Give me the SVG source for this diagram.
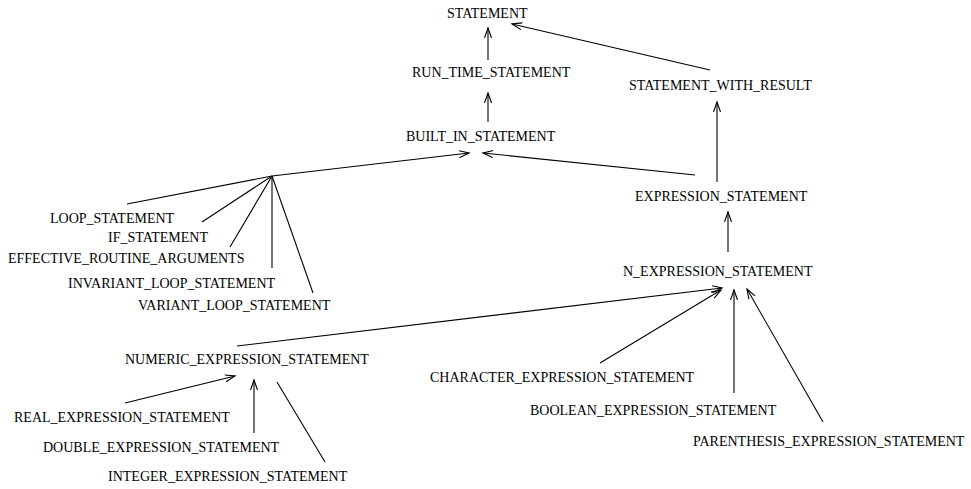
<svg xmlns="http://www.w3.org/2000/svg" width="971" height="489" viewBox="0 0 971 489">
  <style>
    text { font-family: "Liberation Serif", "Times New Roman", serif; font-size: 14px; fill: #000; }
    .edge { stroke: #000; stroke-width: 1.1; fill: none; }
    .arrow { marker-end: url(#head); }
  </style>
  <defs>
    <marker id="head" markerUnits="userSpaceOnUse" markerWidth="12" markerHeight="10" refX="10" refY="4" orient="auto">
      <path d="M0,0.5 L10,4 L0,7.5" fill="none" stroke="#000" stroke-width="1.1"/>
    </marker>
  </defs>
  <rect width="971" height="489" fill="#fff"/>

  <g id="connectors">
    <line class="edge arrow" x1="488" y1="60" x2="488" y2="28"/>
    <line class="edge arrow" x1="710" y1="70" x2="512" y2="24"/>
    <line class="edge arrow" x1="488" y1="122" x2="488" y2="93"/>
    <line class="edge arrow" x1="717" y1="182" x2="717" y2="102"/>
    <line class="edge arrow" x1="695" y1="175" x2="483" y2="153"/>
    <line class="edge arrow" x1="272" y1="176" x2="469" y2="153"/>
    <line class="edge" x1="272" y1="176" x2="127" y2="204"/>
    <line class="edge" x1="272" y1="176" x2="202" y2="222"/>
    <line class="edge" x1="272" y1="176" x2="230" y2="247"/>
    <line class="edge" x1="272" y1="176" x2="272" y2="268"/>
    <line class="edge" x1="272" y1="176" x2="313" y2="293"/>
    <line class="edge arrow" x1="728" y1="252" x2="728" y2="212"/>
    <line class="edge arrow" x1="237" y1="346" x2="722" y2="288"/>
    <line class="edge arrow" x1="600" y1="363" x2="721" y2="290"/>
    <line class="edge arrow" x1="734" y1="393" x2="734" y2="290"/>
    <line class="edge arrow" x1="823" y1="422" x2="747" y2="289"/>
    <line class="edge arrow" x1="125" y1="403" x2="235" y2="376"/>
    <line class="edge arrow" x1="254" y1="433" x2="254" y2="380"/>
    <line class="edge" x1="277" y1="382" x2="325" y2="462"/>
  </g>

  <g id="statement"><text x="447" y="18">STATEMENT</text></g>
  <g id="run_time_statement"><text x="412" y="77">RUN_TIME_STATEMENT</text></g>
  <g id="statement_with_result"><text x="629" y="90">STATEMENT_WITH_RESULT</text></g>
  <g id="built_in_statement"><text x="406" y="141">BUILT_IN_STATEMENT</text></g>
  <g id="expression_statement"><text x="635" y="201">EXPRESSION_STATEMENT</text></g>
  <g id="loop_statement"><text x="50" y="223">LOOP_STATEMENT</text></g>
  <g id="if_statement"><text x="108" y="242">IF_STATEMENT</text></g>
  <g id="effective_routine_arguments"><text x="8" y="263">EFFECTIVE_ROUTINE_ARGUMENTS</text></g>
  <g id="invariant_loop_statement"><text x="68" y="288">INVARIANT_LOOP_STATEMENT</text></g>
  <g id="variant_loop_statement"><text x="138" y="310">VARIANT_LOOP_STATEMENT</text></g>
  <g id="n_expression_statement"><text x="623" y="276">N_EXPRESSION_STATEMENT</text></g>
  <g id="numeric_expression_statement"><text x="125" y="364">NUMERIC_EXPRESSION_STATEMENT</text></g>
  <g id="character_expression_statement"><text x="430" y="382">CHARACTER_EXPRESSION_STATEMENT</text></g>
  <g id="boolean_expression_statement"><text x="530" y="415">BOOLEAN_EXPRESSION_STATEMENT</text></g>
  <g id="real_expression_statement"><text x="14" y="422">REAL_EXPRESSION_STATEMENT</text></g>
  <g id="parenthesis_expression_statement"><text x="693" y="446">PARENTHESIS_EXPRESSION_STATEMENT</text></g>
  <g id="double_expression_statement"><text x="43" y="452">DOUBLE_EXPRESSION_STATEMENT</text></g>
  <g id="integer_expression_statement"><text x="108" y="481">INTEGER_EXPRESSION_STATEMENT</text></g>
</svg>
